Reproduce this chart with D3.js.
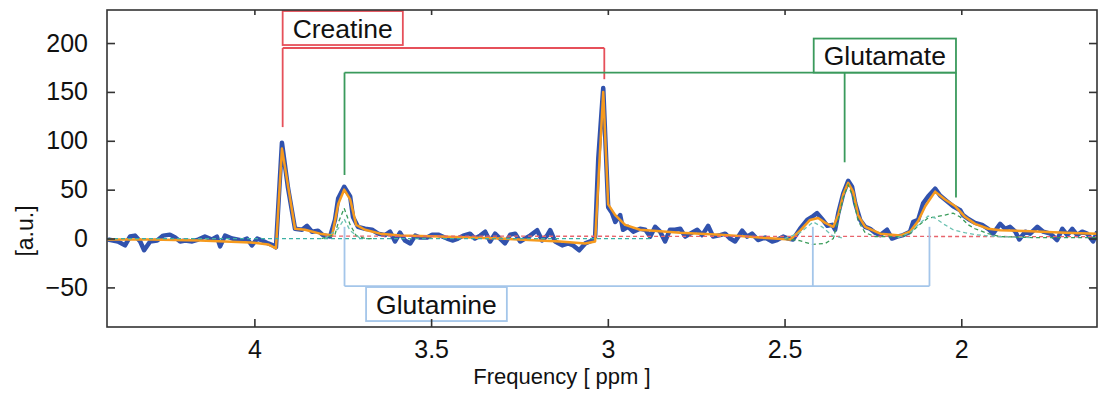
<!DOCTYPE html>
<html>
<head>
<meta charset="utf-8">
<script src="https://cdn.jsdelivr.net/npm/d3@7"></script>
<style>
  body { margin: 0; background: #fff; }
  svg { display: block; font-family: "Liberation Sans", Arial, sans-serif; }
</style>
</head>
<body>
<div id="chart"></div>
<script>
// axis ticks
const xTicks = [4, 3.5, 3, 2.5, 2];
const yTicks = [-50, 0, 50, 100, 150, 200];

// measured spectrum [ppm, a.u.]
const measured = [
  [4.414,-1],[4.386,-3],[4.366,-7],[4.352,2],[4.338,3],[4.323,-3],[4.312,-12],[4.295,-3],
  [4.275,-2],[4.258,3],[4.239,4],[4.224,1],[4.210,-3],[4.196,-2],[4.176,-3],[4.159,-1],
  [4.140,2],[4.120,-1],[4.106,2],[4.097,-8],[4.083,3],[4.063,0],[4.049,-1],[4.035,-2],
  [4.021,0],[4.007,-7],[3.992,0],[3.978,-2],[3.961,-5],[3.947,-7],[3.939,-9],[3.922,98],
  [3.905,52],[3.885,10],[3.865,9],[3.851,13],[3.837,7],[3.820,8],[3.806,3.5],[3.786,2],
  [3.772,19],[3.763,41],[3.746,53],[3.729,43],[3.721,22],[3.707,12],[3.687,10],[3.667,9],
  [3.650,5],[3.630,3.5],[3.616,7],[3.602,-3],[3.588,6],[3.574,-2],[3.559,-5],[3.545,3],
  [3.531,1],[3.511,1],[3.497,4],[3.480,4],[3.455,0],[3.438,-2],[3.424,0],[3.409,3],
  [3.390,5],[3.376,0],[3.361,3],[3.347,7],[3.333,-3],[3.319,5],[3.305,0],[3.291,-5],
  [3.276,4],[3.262,5],[3.248,-3],[3.234,0],[3.220,3],[3.200,8.5],[3.186,-2],[3.172,3],
  [3.163,8.5],[3.149,-3],[3.129,-7],[3.112,-5],[3.098,-7],[3.081,-12],[3.064,-5],[3.044,-2],
  [3.036,2],[3.027,82],[3.013,154],[2.999,32],[2.988,26],[2.979,17],[2.965,24],[2.957,9],
  [2.943,12],[2.928,7],[2.909,10],[2.894,9],[2.880,2],[2.866,12],[2.852,7],[2.838,-3],
  [2.824,9],[2.810,9],[2.795,10],[2.781,2],[2.767,5],[2.747,9],[2.733,3.5],[2.716,13],
  [2.702,2],[2.682,3.5],[2.668,5],[2.654,0],[2.640,-3],[2.620,8],[2.606,2],[2.592,5],
  [2.575,-1.5],[2.555,1],[2.535,-3],[2.521,-1.5],[2.504,2],[2.490,0],[2.476,-1],[2.456,10],
  [2.436,19],[2.419,23],[2.408,26],[2.394,20],[2.379,13],[2.365,14],[2.357,9],[2.348,26],
  [2.334,46],[2.320,59],[2.309,53],[2.300,36],[2.286,19],[2.272,12],[2.258,10],[2.244,6],
  [2.229,3.5],[2.210,9],[2.196,0],[2.181,2],[2.164,3.5],[2.145,7],[2.136,17],[2.122,19],
  [2.108,36],[2.094,43],[2.074,51],[2.060,44],[2.040,38],[2.023,33],[2.003,29],[1.995,24],
  [1.980,20],[1.961,16],[1.941,14],[1.924,10],[1.910,5],[1.890,15],[1.876,10],[1.862,12],
  [1.847,7],[1.836,-1],[1.819,7],[1.805,5],[1.785,12],[1.768,7],[1.748,5],[1.729,-1.5],
  [1.714,10],[1.700,3.5],[1.686,10],[1.672,3.5],[1.658,7],[1.644,5],[1.627,-3],[1.615,7]
];

// model fit
const fitted = [
  [4.414,-1],[4.295,-1],[4.154,-2],[4.012,-4],[3.961,-6],[3.939,-10],[3.922,92],[3.885,10],
  [3.857,9],[3.814,5],[3.780,3],[3.763,35],[3.746,50],[3.729,40],[3.712,14],[3.687,9],
  [3.644,5],[3.588,3],[3.475,2],[3.305,0],[3.135,-3],[3.064,-5],[3.036,-3],[3.013,150],
  [2.999,35],[2.979,24],[2.951,14],[2.909,9],[2.795,6],[2.682,4],[2.569,1],[2.484,-1],
  [2.456,8],[2.428,19],[2.405,21],[2.385,16],[2.362,12],[2.348,24],[2.334,45],[2.320,57],
  [2.306,48],[2.292,24],[2.272,12],[2.229,5],[2.173,3],[2.145,7],[2.122,18],[2.102,33],
  [2.074,48],[2.046,40],[2.017,33],[1.989,22],[1.961,15],[1.924,10],[1.890,8.5],[1.805,7.5],
  [1.706,6],[1.615,5]
];

// fit components
const baselineZero = [[4.417,0],[2.88,0]];
const baselineFit = [[3.80,2.5],[1.616,2]];
const gluLow = [[3.81,0],[3.772,4],[3.763,16],[3.746,31],[3.729,14],[3.712,3],[3.687,0],[3.66,0]];
const gluHigh = [
  [2.50,0],[2.46,-2],[2.42,-6],[2.385,-5],[2.362,0],[2.348,20],[2.334,42],[2.320,55],
  [2.306,42],[2.292,18],[2.272,6],[2.244,2],[2.17,2],[2.145,5],[2.122,13],[2.094,21],
  [2.074,22],[2.046,24],[2.023,26],[2.003,22],[1.980,14],[1.961,10],[1.924,5],[1.890,2],
  [1.80,1],[1.616,1]
];
const glnLow = [[3.80,0],[3.763,10],[3.746,20],[3.729,8],[3.70,0]];
const glnMid = [[2.50,0],[2.456,6],[2.419,17],[2.394,12],[2.365,3],[2.33,0]];
const glnHigh = [
  [2.18,1],[2.145,6],[2.122,14],[2.094,23],[2.074,21],[2.046,14],[2.023,9],[1.990,6],
  [1.961,4],[1.90,2],[1.80,1]
];

// peak assignments
const creatinePeaks = [3.92, 3.01];
const creatineTips = [114, 163];
const glutamatePeaks = [3.745, 2.33, 2.015];
const glutamateTips = [65, 78, 42];
const glutaminePeaks = [3.745, 2.42, 2.09];
const glutamineTips = [12, 12, 12];

const margin = { top: 10, right: 1, bottom: 66, left: 107 };
const width = 1098 - margin.left - margin.right;
const height = 393 - margin.top - margin.bottom;

const svg = d3.select("#chart").append("svg")
  .attr("width", 1098)
  .attr("height", 393);

const g = svg.append("g")
  .attr("transform", `translate(${margin.left},${margin.top})`);

const x = d3.scaleLinear().domain([4.417, 1.616]).range([0, width]);
const y = d3.scaleLinear().domain([-90.5, 233.8]).range([height, 0]);

g.append("clipPath").attr("id", "plot")
  .append("rect").attr("width", width).attr("height", height);

const line = d3.line().x(d => x(d[0])).y(d => y(d[1]));

const data = g.append("g").attr("clip-path", "url(#plot)");

// thick measured spectrum and fit
data.append("path").datum(measured)
  .attr("d", line)
  .attr("fill", "none")
  .attr("stroke", "#3152ad")
  .attr("stroke-width", 4.5)
  .attr("stroke-linejoin", "round");

data.append("path").datum(fitted)
  .attr("d", line)
  .attr("fill", "none")
  .attr("stroke", "#f69a1e")
  .attr("stroke-width", 2.5)
  .attr("stroke-linejoin", "round");

// dashed components
const dashed = [
  { d: baselineZero, c: "#3cb0a4" },
  { d: baselineFit, c: "#e8646c" },
  { d: gluLow, c: "#3a9c5a" },
  { d: gluHigh, c: "#3a9c5a" },
  { d: glnLow, c: "#6cc2b2" },
  { d: glnMid, c: "#6cc2b2" },
  { d: glnHigh, c: "#6cc2b2" }
];
data.selectAll(".comp").data(dashed).enter()
  .append("path")
  .attr("class", "comp")
  .attr("d", d => line(d.d))
  .attr("fill", "none")
  .attr("stroke", d => d.c)
  .attr("stroke-width", 1.3)
  .attr("stroke-dasharray", "4,3");

// annotations
function bracket(peaks, tips, level, color) {
  const yl = y(level);
  g.append("line")
    .attr("x1", x(d3.max(peaks))).attr("x2", x(d3.min(peaks)))
    .attr("y1", yl).attr("y2", yl)
    .attr("stroke", color).attr("stroke-width", 1.8);
  peaks.forEach((p, i) => {
    g.append("line")
      .attr("x1", x(p)).attr("x2", x(p))
      .attr("y1", yl).attr("y2", y(tips[i]))
      .attr("stroke", color).attr("stroke-width", 1.8);
  });
}

function labelBox(text, left, right, top, color) {
  const t = g.append("text")
    .attr("font-size", "26.5px")
    .attr("fill", "#111")
    .text(text);
  const w = t.node().getComputedTextLength();
  const bw = w + 20, bh = 34;
  const bx = left != null ? left : right - bw;
  g.insert("rect", "text")
    .attr("x", bx).attr("y", top)
    .attr("width", bw).attr("height", bh)
    .attr("fill", "#fff")
    .attr("stroke", color).attr("stroke-width", 1.8);
  t.attr("x", bx + 10).attr("y", top + bh / 2).attr("dy", "0.36em");
}

bracket(creatinePeaks, creatineTips, 194.9, "#e6505a");
bracket(glutamatePeaks, glutamateTips, 169.8, "#3a9a5c");
bracket(glutaminePeaks, glutamineTips, -48.6, "#a4c6ea");

labelBox("Creatine", x(3.92), null, y(194.9) - 37, "#e6505a");
labelBox("Glutamate", null, x(2.015), y(169.8) - 34, "#3a9a5c");
labelBox("Glutamine", x(3.684), null, y(-48.6) + 1, "#a4c6ea");

// frame and axes
g.append("rect")
  .attr("width", width).attr("height", height)
  .attr("fill", "none").attr("stroke", "#333").attr("stroke-width", 1.6);

const xAxis = g.append("g")
  .attr("transform", `translate(0,${height})`)
  .call(d3.axisBottom(x).tickValues(xTicks).tickSize(-8).tickPadding(13).tickFormat(d3.format("")));

const yAxis = g.append("g")
  .call(d3.axisLeft(y).tickValues(yTicks).tickSize(-8).tickPadding(19));

const xTop = g.append("g")
  .call(d3.axisTop(x).tickValues(xTicks).tickSize(-5).tickFormat(""));

const yRight = g.append("g")
  .attr("transform", `translate(${width},0)`)
  .call(d3.axisRight(y).tickValues(yTicks).tickSize(-8).tickFormat(""));

[xAxis, yAxis, xTop, yRight].forEach(a => {
  a.select(".domain").remove();
  a.selectAll(".tick line").attr("stroke", "#333").attr("stroke-width", 1.6);
  a.selectAll(".tick text")
    .attr("fill", "#111")
    .style("font-size", "25px")
    .style("font-family", "'Liberation Sans', Arial, sans-serif");
});

// axis titles
svg.append("text")
  .attr("x", 562)
  .attr("y", 384)
  .attr("text-anchor", "middle")
  .attr("font-size", "22px")
  .attr("fill", "#111")
  .text("Frequency [ ppm ]");

svg.append("text")
  .attr("transform", "translate(33,231) rotate(-90)")
  .attr("text-anchor", "middle")
  .attr("font-size", "23px")
  .attr("fill", "#111")
  .text("[a.u.]");
</script>
</body>
</html>
